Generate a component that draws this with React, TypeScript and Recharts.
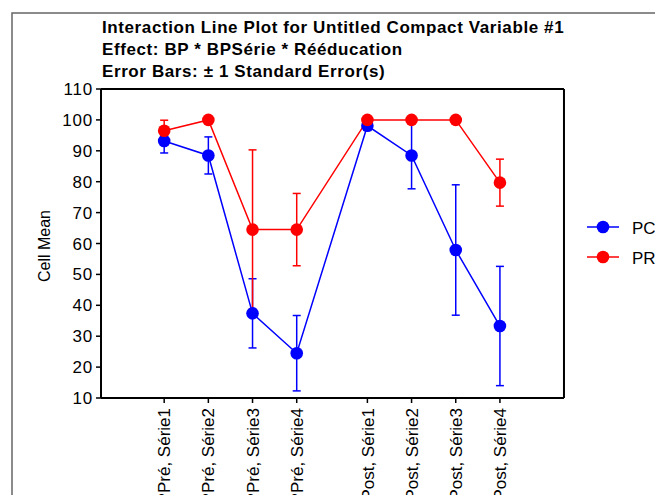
import { LineChart, Line, XAxis, YAxis, ErrorBar } from 'recharts';

// cell means and standard errors
const categories = [
  'BPPré, Série1',
  'BPPré, Série2',
  'BPPré, Série3',
  'BPPré, Série4',
  'BPPost, Série1',
  'BPPost, Série2',
  'BPPost, Série3',
  'BPPost, Série4',
];
const xPositions = [1, 2, 3, 4, 5.6, 6.6, 7.6, 8.6];
const pcMeans = [93.2, 88.5, 37.4, 24.5, 98.1, 88.5, 57.9, 33.3];
const pcErrors = [3.9, 6.0, 11.2, 12.2, 1.5, 10.8, 21.1, 19.3];
const prMeans = [96.5, 100, 64.5, 64.5, 100, 100, 100, 79.7];
const prErrors = [3.4, 0, 25.8, 11.7, 0, 0, 0, 7.6];
const majorTicks = [10, 20, 30, 40, 50, 60, 70, 80, 90, 100, 110];
const minorTicks = [15, 25, 35, 45, 55, 65, 75, 85, 95, 105];
const titleLines = [
  'Interaction Line Plot for Untitled Compact Variable #1',
  'Effect: BP * BPSérie * Rééducation',
  'Error Bars: ± 1 Standard Error(s)',
];
const seriesNames = ['PC', 'PR'];

const data = xPositions.map((x, i) => ({
  x,
  pc: pcMeans[i],
  pcErr: pcErrors[i],
  pr: prMeans[i],
  prErr: prErrors[i],
}));

const FONT = '"Liberation Sans", Arial, Helvetica, sans-serif';
const BLUE = '#0000ff';
const RED = '#ff0000';
const X_DOMAIN = [-0.43, 10.05];
const Y_DOMAIN = [10, 110];
// axes that only carry tick marks get a near-zero size (a size of 0 is not drawn)
const THIN = 0.01;

function CategoryTick(props: any) {
  const { x, y, payload } = props;
  const i = xPositions.findIndex(v => Math.abs(v - payload.value) < 0.01);
  return (
    <text
      x={x}
      y={y}
      transform={`rotate(-90 ${x} ${y})`}
      textAnchor="end"
      dy="0.36em"
      fontSize={17}
      fontFamily={FONT}
      fill="#000"
    >
      {categories[i]}
    </text>
  );
}

export default function App() {
  const axisLine = { stroke: '#000', strokeWidth: 2 };
  const tickLine = { stroke: '#000', strokeWidth: 1.5 };

  return (
    <div style={{ position: 'absolute', left: 0, top: 0, width: 655, height: 495, background: '#fff', overflow: 'hidden' }}>
      <LineChart width={655} height={495} data={data} margin={{ top: 89, right: 91, bottom: 0, left: 41 }}>
        <XAxis
          xAxisId="bottom"
          dataKey="x"
          type="number"
          domain={X_DOMAIN}
          ticks={xPositions}
          allowDataOverflow
          height={97}
          tickSize={5}
          tickMargin={5}
          axisLine={axisLine}
          tickLine={tickLine}
          tick={<CategoryTick />}
          interval={0}
        />
        <XAxis
          xAxisId="top"
          orientation="top"
          dataKey="x"
          type="number"
          domain={X_DOMAIN}
          ticks={xPositions}
          allowDataOverflow
          height={THIN}
          tickSize={5}
          axisLine={axisLine}
          tickLine={tickLine}
          tick={false}
          interval={0}
        />
        <YAxis
          yAxisId="leftMinor"
          type="number"
          domain={Y_DOMAIN}
          ticks={minorTicks}
          interval={0}
          width={THIN}
          tickSize={3}
          axisLine={false}
          tickLine={tickLine}
          tick={false}
        />
        <YAxis
          yAxisId="left"
          type="number"
          domain={Y_DOMAIN}
          ticks={majorTicks}
          interval={0}
          width={60}
          tickSize={5}
          tickMargin={3}
          axisLine={axisLine}
          tickLine={tickLine}
          tick={{ fontSize: 17, fontFamily: FONT, fill: '#000', letterSpacing: 0.8 }}
        />
        <YAxis
          yAxisId="rightMinor"
          orientation="right"
          type="number"
          domain={Y_DOMAIN}
          ticks={minorTicks}
          interval={0}
          width={THIN}
          tickSize={3}
          axisLine={false}
          tickLine={tickLine}
          tick={false}
        />
        <YAxis
          yAxisId="right"
          orientation="right"
          type="number"
          domain={Y_DOMAIN}
          ticks={majorTicks}
          interval={0}
          width={THIN}
          tickSize={5}
          axisLine={axisLine}
          tickLine={tickLine}
          tick={false}
        />
        <Line
          xAxisId="bottom"
          yAxisId="left"
          dataKey="pc"
          stroke={BLUE}
          strokeWidth={1.5}
          dot={{ r: 6.3, fill: BLUE, stroke: 'none' }}
          isAnimationActive={false}
        >
          <ErrorBar dataKey="pcErr" direction="y" width={4} stroke={BLUE} strokeWidth={1.5} />
        </Line>
        <Line
          xAxisId="bottom"
          yAxisId="left"
          dataKey="pr"
          stroke={RED}
          strokeWidth={1.5}
          dot={{ r: 6.3, fill: RED, stroke: 'none' }}
          isAnimationActive={false}
        >
          <ErrorBar dataKey="prErr" direction="y" width={4} stroke={RED} strokeWidth={1.5} />
        </Line>
      </LineChart>

      {/* title, axis caption, legend and outer frame */}
      <svg width={655} height={495} style={{ position: 'absolute', left: 0, top: 0, pointerEvents: 'none' }}>
        <rect x={12} y={13} width={660} height={500} fill="none" stroke="#666" strokeWidth={1.5} />
        {titleLines.map((t, i) => (
          <text
            key={t}
            x={102}
            y={33 + i * 22}
            fontSize={17}
            fontWeight="bold"
            letterSpacing={0.6}
            fontFamily={FONT}
            fill="#000"
          >
            {t}
          </text>
        ))}
        <text
          x={50}
          y={246}
          transform="rotate(-90 50 246)"
          textAnchor="middle"
          fontSize={16}
          fontFamily={FONT}
          fill="#000"
        >
          Cell Mean
        </text>
        {seriesNames.map((name, i) => {
          const cy = 227 + i * 30;
          const color = i === 0 ? BLUE : RED;
          return (
            <g key={name}>
              <line x1={587} y1={cy} x2={619} y2={cy} stroke={color} strokeWidth={1.5} />
              <circle cx={603} cy={cy} r={6.3} fill={color} />
              <text x={632} y={cy + 7} fontSize={17} fontFamily={FONT} fill="#000">
                {name}
              </text>
            </g>
          );
        })}
      </svg>
    </div>
  );
}
